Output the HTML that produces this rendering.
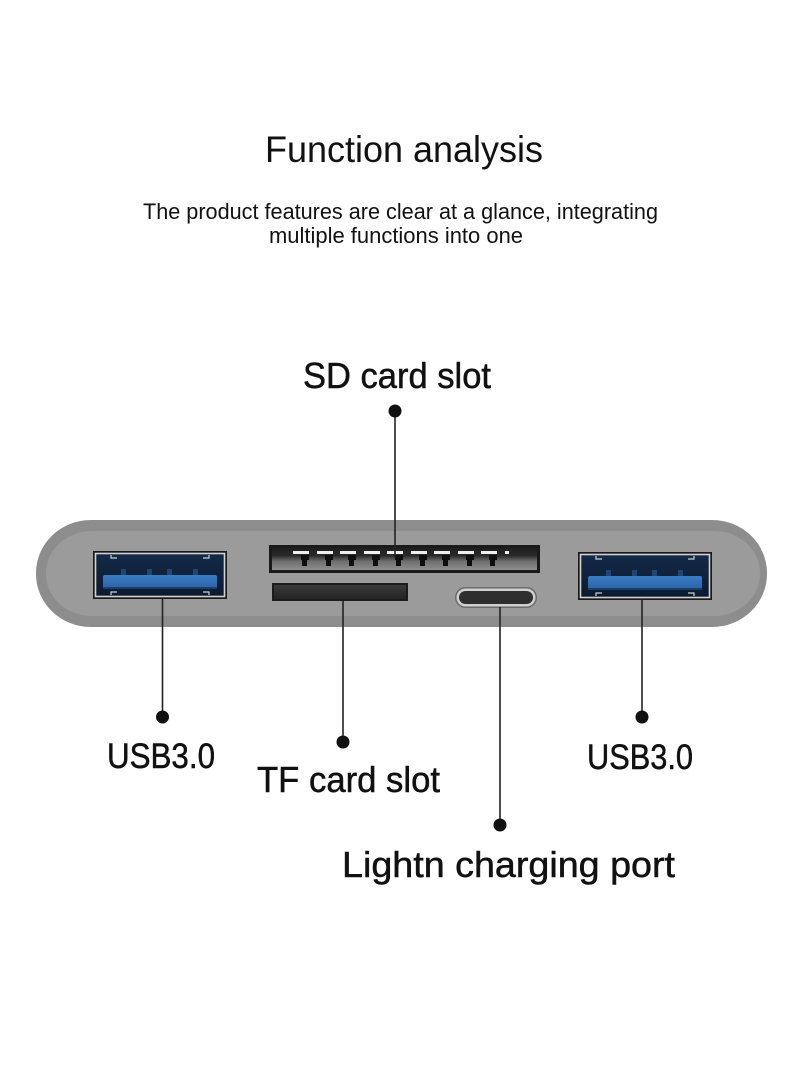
<!DOCTYPE html>
<html>
<head>
<meta charset="utf-8">
<style>
  html,body{margin:0;padding:0;background:#fff;}
  body{width:800px;height:1066px;overflow:hidden;}
  svg{display:block;}
  .t{font-family:"Liberation Sans","DejaVu Sans",sans-serif;fill:#111;}
  .lbl{stroke:#111;stroke-width:0.5;}
</style>
</head>
<body>
<svg width="800" height="1066" viewBox="0 0 800 1066" xmlns="http://www.w3.org/2000/svg">
  <defs>
    <linearGradient id="sdIn" x1="0" y1="0" x2="0" y2="1">
      <stop offset="0" stop-color="#1e1e1e"/>
      <stop offset="0.35" stop-color="#2a2a2a"/>
      <stop offset="0.6" stop-color="#6e6e6e"/>
      <stop offset="1" stop-color="#8e8e8e"/>
    </linearGradient>
    <linearGradient id="tfIn" x1="0" y1="0" x2="0" y2="1">
      <stop offset="0" stop-color="#3a3a3a"/>
      <stop offset="1" stop-color="#232323"/>
    </linearGradient>
    <linearGradient id="usbIn" x1="0" y1="0" x2="0" y2="1">
      <stop offset="0" stop-color="#142a48"/>
      <stop offset="1" stop-color="#0b1a30"/>
    </linearGradient>
    <linearGradient id="tongue" x1="0" y1="0" x2="0" y2="1">
      <stop offset="0" stop-color="#3a7cc4"/>
      <stop offset="1" stop-color="#2a62a3"/>
    </linearGradient>
    <g id="usb">
      <rect x="0" y="0" width="134" height="48" fill="#1a1a1a"/>
      <rect x="2.5" y="2.5" width="129" height="43" fill="url(#usbIn)" stroke="#d2d2d2" stroke-width="1.6"/>
      <rect x="28" y="18" width="5" height="6" fill="#1f4676"/>
      <rect x="54" y="18" width="5" height="6" fill="#1f4676"/>
      <rect x="74" y="18" width="5" height="6" fill="#1f4676"/>
      <rect x="100" y="18" width="5" height="6" fill="#1f4676"/>
      <rect x="10" y="24" width="114" height="14" rx="2" fill="url(#tongue)"/>
      <rect x="10" y="36" width="114" height="2" fill="#1b3f6b"/>
      <path d="M18 4 v3 h6 M116 4 v3 h-6 M18 44 v-3 h6 M116 44 v-3 h-6" stroke="#cfcfcf" stroke-width="1.2" fill="none"/>
    </g>
  </defs>

  <!-- Title -->
  <text class="t" x="265" y="162" font-size="37" textLength="278" lengthAdjust="spacingAndGlyphs">Function analysis</text>
  <text class="t" x="143" y="219" font-size="22" textLength="515" lengthAdjust="spacingAndGlyphs">The product features are clear at a glance, integrating</text>
  <text class="t" x="269" y="243" font-size="22" textLength="254" lengthAdjust="spacingAndGlyphs">multiple functions into one</text>

  <!-- SD label -->
  <text class="t lbl" x="303" y="388" font-size="36" textLength="188" lengthAdjust="spacingAndGlyphs">SD card slot</text>

  <!-- Device body -->
  <rect x="36" y="520" width="731" height="107" rx="55" ry="53" fill="#8d8d8d"/>
  <rect x="46" y="531" width="714" height="85" rx="46" ry="42" fill="#9b9b9b"/>

  <!-- USB ports -->
  <use href="#usb" x="93" y="551"/>
  <use href="#usb" x="578" y="552"/>

  <!-- SD slot -->
  <rect x="269" y="545" width="271" height="28" fill="#1a1a1a"/>
  <rect x="272" y="548" width="265" height="22" fill="url(#sdIn)"/>
  <g fill="#eeeeee">
    <rect x="293" y="551" width="16" height="3"/>
    <rect x="317" y="551" width="16" height="3"/>
    <rect x="340" y="551" width="16" height="3"/>
    <rect x="364" y="551" width="16" height="3"/>
    <rect x="387" y="551" width="16" height="3"/>
    <rect x="411" y="551" width="16" height="3"/>
    <rect x="434" y="551" width="16" height="3"/>
    <rect x="458" y="551" width="16" height="3"/>
    <rect x="481" y="551" width="16" height="3"/>
    <rect x="505" y="551" width="4" height="3"/>
  </g>
  <g fill="#0e0e0e">
    <path d="M301 555 h8 v5 h-2 v6 h-5 v-6 h-1 z"/>
    <path d="M325 555 h8 v5 h-2 v6 h-5 v-6 h-1 z"/>
    <path d="M348 555 h8 v5 h-2 v6 h-5 v-6 h-1 z"/>
    <path d="M372 555 h8 v5 h-2 v6 h-5 v-6 h-1 z"/>
    <path d="M395 555 h8 v5 h-2 v6 h-5 v-6 h-1 z"/>
    <path d="M419 555 h8 v5 h-2 v6 h-5 v-6 h-1 z"/>
    <path d="M442 555 h8 v5 h-2 v6 h-5 v-6 h-1 z"/>
    <path d="M466 555 h8 v5 h-2 v6 h-5 v-6 h-1 z"/>
    <path d="M489 555 h8 v5 h-2 v6 h-5 v-6 h-1 z"/>
  </g>

  <!-- TF slot -->
  <rect x="272" y="583" width="136" height="18" fill="#1c1c1c"/>
  <rect x="274" y="585" width="132" height="14" fill="url(#tfIn)"/>

  <!-- Lightning port -->
  <rect x="455" y="587" width="82" height="21" rx="10.5" fill="#6a6a6a"/>
  <rect x="456.5" y="588.5" width="79" height="18" rx="9" fill="#cfcfcf"/>
  <rect x="459" y="591" width="74" height="13" rx="6.5" fill="#2e2e2e"/>

  <!-- Leader lines -->
  <g stroke="#222" stroke-width="1.6">
    <line x1="395" y1="411" x2="395" y2="558"/>
    <line x1="162.5" y1="599" x2="162.5" y2="717"/>
    <line x1="343" y1="601" x2="343" y2="742"/>
    <line x1="500" y1="607" x2="500" y2="825"/>
    <line x1="642" y1="599" x2="642" y2="717"/>
  </g>
  <g fill="#111">
    <circle cx="395" cy="411" r="6.5"/>
    <circle cx="162.5" cy="717" r="6.5"/>
    <circle cx="343" cy="742" r="6.5"/>
    <circle cx="500" cy="825" r="6.5"/>
    <circle cx="642" cy="717" r="6.5"/>
  </g>

  <!-- Labels -->
  <text class="t lbl" x="107" y="768" font-size="35" textLength="108" lengthAdjust="spacingAndGlyphs">USB3.0</text>
  <text class="t lbl" x="257" y="792" font-size="36" textLength="183" lengthAdjust="spacingAndGlyphs">TF card slot</text>
  <text class="t lbl" x="342" y="877" font-size="36" textLength="333" lengthAdjust="spacingAndGlyphs">Lightn charging port</text>
  <text class="t lbl" x="587" y="769" font-size="35" textLength="106" lengthAdjust="spacingAndGlyphs">USB3.0</text>
</svg>
</body>
</html>
